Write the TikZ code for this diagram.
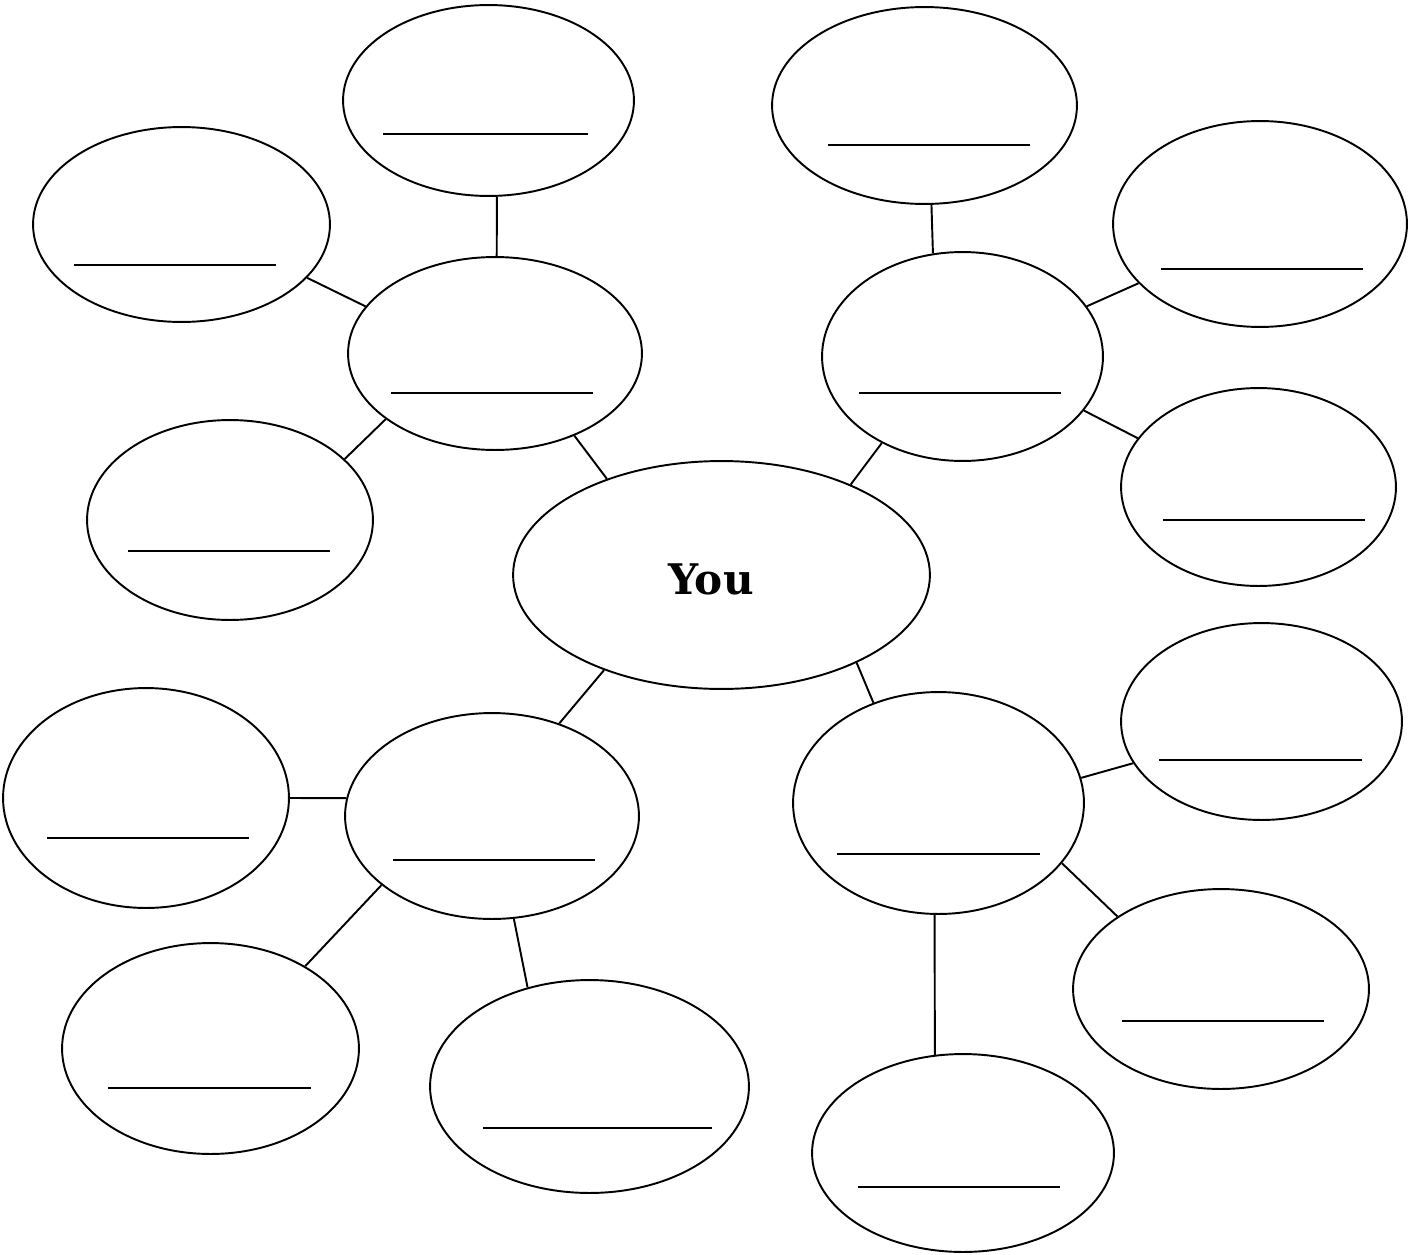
\documentclass[tikz,border=0pt]{standalone}
\usepackage{fontspec}
\newfontfamily\youfont{DejaVu Serif}
\usetikzlibrary{shapes.geometric}
\newcommand\bub[8]{%
  \node[bubble, minimum width={#4*0.04cm}, minimum height={#5*0.04cm}] (#1) at (#2,#3) {};
  \draw[blank] (#7,#6) -- (#8,#6);}
\begin{document}
\begin{tikzpicture}[x=0.02cm,y=-0.02cm,
  bubble/.style={draw, ellipse, inner sep=0pt, line width=1.1pt},
  link/.style={line width=1.1pt},
  blank/.style={line width=1.1pt}]
\useasboundingbox (0,0) rectangle (1409,1254);
% centre
\node[bubble, minimum width={208.5*0.04cm}, minimum height={114*0.04cm}] (you) at (721.5,575) {};
\node[font=\youfont\fontsize{24}{28}\selectfont\bfseries, inner sep=0pt] (youtext) at (711,579) {You};
% top-left group
\bub{h2}{495}{353.5}{147}{96.5}{393}{391}{593}
\bub{l3}{488.5}{100.5}{145.5}{95.5}{134}{383}{588}
\bub{l4}{181.5}{224.5}{148.5}{97.5}{265}{74}{276}
\bub{l5}{230}{520}{143}{100}{551}{128}{330}
% top-right group
\bub{h6}{962.5}{356.5}{140.5}{104.5}{393}{859}{1061}
\bub{l7}{924.5}{105.5}{152.5}{98.5}{145}{828}{1030}
\bub{l8}{1260}{224}{147}{103}{269}{1161}{1363}
\bub{l9}{1258.5}{487}{137.5}{99}{520}{1163}{1365}
% bottom-left group
\bub{h10}{492}{816}{147}{103}{860}{393}{595}
\bub{l11}{146}{798}{143}{110}{838}{47}{249}
\bub{l12}{210.5}{1048.5}{148.5}{105.5}{1088}{108}{311}
\bub{l13}{589.5}{1086.5}{159.5}{106.5}{1128}{483}{712}
% bottom-right group
\bub{h14}{938.5}{803}{145.5}{111}{854}{837}{1040}
\bub{l15}{1261.5}{721.5}{140.5}{98.5}{760}{1159}{1362}
\bub{l16}{1221}{989}{148}{100}{1021}{1122}{1324}
\bub{l17}{963}{1153}{151}{99}{1187}{858}{1060}
% connectors
\draw[link] (you.140.3) -- (h2.314.8);
\draw[link] (h2.89) -- (l3.275);
\draw[link] (h2.160.2) -- (l4.337);
\draw[link] (h2.211.4) -- (l5.28.6);
\draw[link] (you.35) -- (h6.227.4);
\draw[link] (h6.106.4) -- (l7.274.4);
\draw[link] (h6.22.2) -- (l8.206);
\draw[link] (h6.336.2) -- (l9.158);
\draw[link] (you.219) -- (h10.54.8);
\draw[link] (h10.173.3) -- (l11.0);
\draw[link] (h10.212.5) -- (l12.41.4);
\draw[link] (h10.282) -- (l13.122.4);
\draw[link] (you.327.5) -- (h14.123.8);
\draw[link] (h14.10.3) -- (l15.198);
\draw[link] (h14.334.5) -- (l16.145.4);
\draw[link] (h14.268) -- (l17.106);
\end{tikzpicture}
\end{document}
